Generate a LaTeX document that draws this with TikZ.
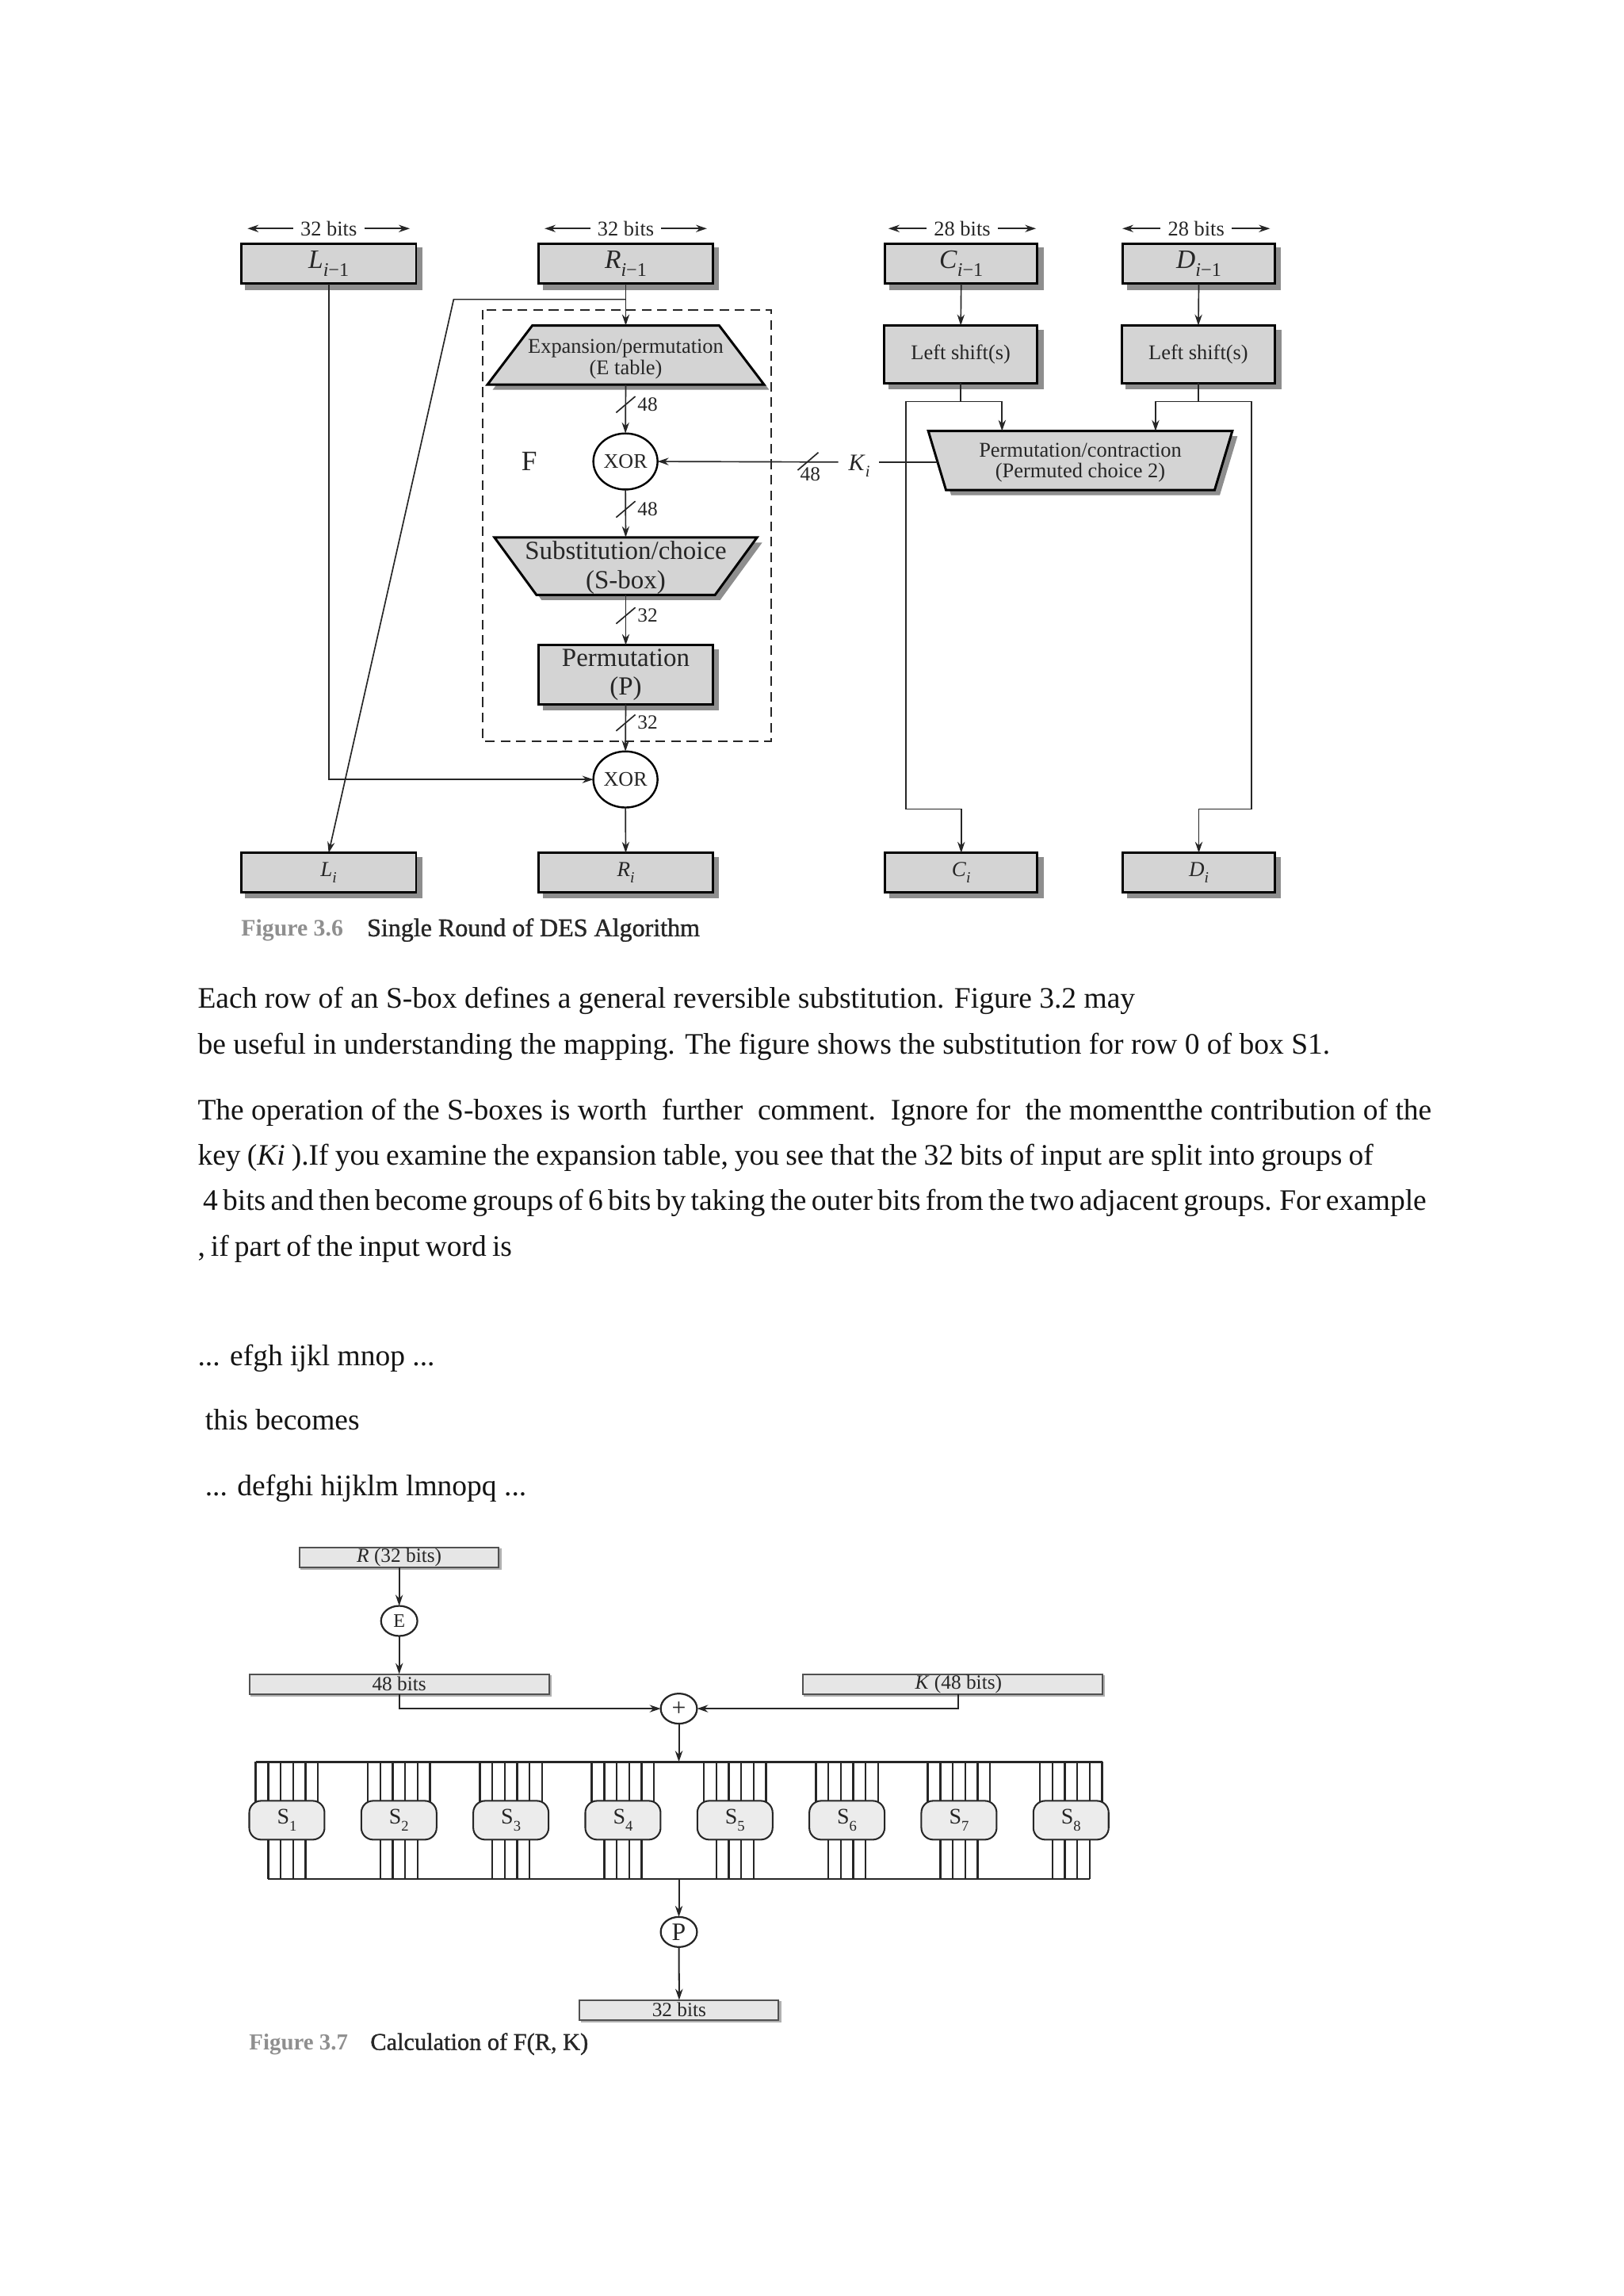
\documentclass[tikz,border=0pt]{standalone}
\usepackage{fontspec}
\setmainfont{Liberation Serif}
\newfontfamily\semib[FakeBold=1.2]{Liberation Serif}
\usetikzlibrary{arrows.meta,shapes.geometric}
\definecolor{boxgray}{HTML}{D4D4D4}
\definecolor{shadowgray}{HTML}{8E8E8E}
\definecolor{lightbox}{HTML}{E6E6E6}
\definecolor{sfill}{HTML}{ECECEC}
\definecolor{ink}{HTML}{262626}
\definecolor{capgray}{HTML}{8F8F8F}
\newcommand\fsz[1]{\fontsize{#1}{#1}\selectfont}
\newcommand\sbs[2]{\raisebox{-0.3em}{\fontsize{#1}{#1}\selectfont #2}}
\newcommand\slashlbl[4]{%
  \draw[conn] ({#1-6.5},{#2+5.5}) -- ({#1+6.5},{#2-5.5});
  \node[anchor=west,font=\fsz{13.6}] (#4) at ({#1+8},{#2}) {#3};}
\begin{document}
\begin{tikzpicture}[x=1pt,y=-1pt,
  >={Stealth[length=7.5pt,width=5pt]},
  every node/.style={inner sep=0pt,outer sep=0pt,text=ink},
  conn/.style={draw=ink,line width=0.9pt},
  conn7/.style={draw=ink,line width=1.1pt},
  wire/.style={draw=ink,line width=1.3pt},
  bigbox/.style={draw=black,line width=1.6pt,fill=boxgray,minimum height=27pt,
    preaction={draw=shadowgray,fill=shadowgray,line width=1.6pt,transform canvas={xshift=3.5pt,yshift=-3.5pt}}},
  xorc/.style={draw=black,line width=1.3pt,ellipse,fill=white,minimum width=43.5pt,minimum height=38pt,font=\fsz{14}},
  smallbox/.style={draw=ink!80,line width=1pt,fill=lightbox,minimum height=13.4pt,font=\fsz{13.6},
    preaction={draw=shadowgray!70,fill=shadowgray!70,transform canvas={xshift=1.2pt,yshift=-1.2pt}}},
  circ7/.style={draw=ink,line width=1.2pt,ellipse,fill=white,minimum width=24.6pt,minimum height=20.4pt},
  sbox/.style={draw=ink,line width=1.1pt,fill=sfill,rounded corners=8pt,minimum width=51pt,minimum height=26.3pt},
  body/.style={anchor=base west,font=\fsz{20.15},text=black!92},
  trap/.style={fill=boxgray,draw=black,line width=1.6pt,line join=miter},
  trapsh/.style={fill=shadowgray,shift={(3.5,3.5)}},
]
\fill[white] (0,0) rectangle (1100,1555.3);
\useasboundingbox (0,0) rectangle (1100,1555.3);

% ================= Figure 3.6 =================
% bit-width labels
\node[font=\fsz{14.2}] (b1) at (222.7,154.8) {32 bits};
\node[font=\fsz{14.2}] (b2) at (424,154.8) {32 bits};
\node[font=\fsz{14.2}] (b3) at (652,154.8) {28 bits};
\node[font=\fsz{14.2}] (b4) at (810.5,154.8) {28 bits};
\foreach \b/\d in {b1/55,b2/55,b3/50,b4/50}{
  \draw[conn,->] ([xshift=-5pt]\b.west) -- ([xshift=-\d pt]\b.center);
  \draw[conn,->] ([xshift=5pt]\b.east) -- ([xshift=\d pt]\b.center);
}

% top boxes
\node[bigbox,minimum width=118.5pt,font=\fsz{18}] (Lp) at (222.7,178.5) {\textit{L}\sbs{13}{\textit{i}−1}};
\node[bigbox,minimum width=118pt,font=\fsz{18}] (Rp) at (424,178.5) {\textit{R}\sbs{13}{\textit{i}−1}};
\node[bigbox,minimum width=103pt,font=\fsz{18}] (Cp) at (651.3,178.5) {\textit{C}\sbs{13}{\textit{i}−1}};
\node[bigbox,minimum width=103pt,font=\fsz{18}] (Dp) at (812.3,178.5) {\textit{D}\sbs{13}{\textit{i}−1}};

% left shift boxes
\node[bigbox,minimum width=103.5pt,minimum height=39pt,font=\fsz{14.2}] (LS1) at (651,240) {Left shift(s)};
\node[bigbox,minimum width=104pt,minimum height=39pt,font=\fsz{14.2}] (LS2) at (812,240) {Left shift(s)};

% dashed F box
\draw[draw=ink,line width=1.1pt,dash pattern=on 6.5pt off 4pt] (327,209.8) rectangle (522.5,502);
\node[font=\fsz{19}] (F) at (358.6,312.6) {F};

% E trapezoid
\fill[trapsh] (360.7,220.5) -- (487.3,220.5) -- (517.7,260.5) -- (330.3,260.5) -- cycle;
\filldraw[trap] (360.7,220.5) -- (487.3,220.5) -- (517.7,260.5) -- (330.3,260.5) -- cycle;
\node[align=center,font={\fontsize{14.2}{14.5}\selectfont}] (Etxt) at (424,243.5) {Expansion/permutation\\(E table)};
\coordinate (Etop) at (424,220.5);
\coordinate (Ebot) at (424,260.5);

% XOR 1
\node[xorc] (X1) at (423.8,312.6) {XOR};

% S trapezoid
\fill[trapsh] (335,364) -- (513,364) -- (484.5,403) -- (363.5,403) -- cycle;
\filldraw[trap] (335,364) -- (513,364) -- (484.5,403) -- (363.5,403) -- cycle;
\node[align=center,font={\fontsize{17.7}{20}\selectfont}] (Stxt) at (424,384.5) {Substitution/choice\\(S-box)};
\coordinate (Stop) at (424,364);
\coordinate (Sbot) at (424,403);

% Permutation box
\node[bigbox,minimum width=118pt,minimum height=40pt,align=center,font={\fontsize{17.7}{19.5}\selectfont}] (P) at (424,457) {Permutation\\(P)};

% XOR 2
\node[xorc] (X2) at (423.8,528) {XOR};

% PC2 trapezoid
\fill[trapsh] (629,292) -- (835,292) -- (823,332) -- (641,332) -- cycle;
\filldraw[trap] (629,292) -- (835,292) -- (823,332) -- (641,332) -- cycle;
\node[align=center,font={\fontsize{14.2}{14}\selectfont}] (PCtxt) at (732,313.5) {Permutation/contraction\\(Permuted choice 2)};
\coordinate (PCl) at (635.3,313);
\coordinate (PCt1) at (679,292);
\coordinate (PCt2) at (783,292);

% bottom boxes
\node[bigbox,minimum width=118.5pt,minimum height=26.5pt,font=\fsz{14.5}] (Li) at (222.7,591) {\textit{L}\sbs{10.5}{\textit{i}}};
\node[bigbox,minimum width=118pt,minimum height=26.5pt,font=\fsz{14.5}] (Ri) at (424,591) {\textit{R}\sbs{10.5}{\textit{i}}};
\node[bigbox,minimum width=103pt,minimum height=26.5pt,font=\fsz{14.5}] (Ci) at (651.3,591) {\textit{C}\sbs{10.5}{\textit{i}}};
\node[bigbox,minimum width=103pt,minimum height=26.5pt,font=\fsz{14.5}] (Di) at (812.3,591) {\textit{D}\sbs{10.5}{\textit{i}}};

% connectors of the data path
\coordinate (br) at (424,202.8);
\coordinate (brL) at (307.4,202.8);
\draw[conn,->] (Rp.south) -- (Etop);
\draw[conn,->] (br) -- (brL) -- (Li.north);
\draw[conn,->] (Lp.south) |- (X2.west);
\draw[conn,->] (Ebot) -- (X1.north);
\slashlbl{424}{274}{48}{n1}
\draw[conn,->] (X1.south) -- (Stop);
\slashlbl{424}{345}{48}{n2}
\draw[conn,->] (Sbot) -- (P.north);
\slashlbl{424}{417}{32}{n3}
\draw[conn,->] (P.south) -- (X2.north);
\slashlbl{424}{489.6}{32}{n4}
\draw[conn,->] (X2.south) -- (Ri.north);

% key path
\node[anchor=base west,font=\fsz{16}] (Ki) at (575,318.5) {\textit{K}\sbs{11}{\textit{i}}};
\draw[conn] (PCl) -- ([xshift=6pt]Ki.east |- PCl);
\draw[conn,->] ([xshift=-7pt]Ki.west |- PCl) -- (X1.east);
\draw[conn] (540.5,318.5) -- (554.5,306.5);
\node[anchor=north,font=\fsz{13.6}] (n5) at (549,316.5) {48};

\coordinate (jL) at (614,272);
\coordinate (jLa) at (679,272);
\coordinate (jR) at (848,272);
\coordinate (jRa) at (783,272);
\coordinate (bendL) at (614,548);
\coordinate (bendR) at (848,548);
\draw[conn,->] (Cp.south) -- (LS1.north);
\draw[conn,->] (Dp.south) -- (LS2.north);
\draw[conn] (LS1.south) -- (LS1.south |- jL);
\draw[conn] (LS2.south) -- (LS2.south |- jR);
\draw[conn,->] (jL) -- (jLa) -- (PCt1);
\draw[conn,->] (jR) -- (jRa) -- (PCt2);
\draw[conn,->] (jL) -- (bendL) -| (Ci.north);
\draw[conn,->] (jR) -- (bendR) -| (Di.north);

% caption 3.6
\node[anchor=west,font=\fsz{16},text=capgray] (cap1a) at (163.5,630) {\bfseries Figure 3.6};
\node[anchor=west,font=\fsz{17.2}] (cap1b) at (248.7,630) {\semib Single Round of DES Algorithm};

% ================= Body text =================
\node[body] (t1) at (134,683) {Each row of an S-box defines a general reversible substitution. Figure 3.2 may};
\node[body] (t2) at (134,713.8) {be useful in understanding the mapping. The figure shows the substitution for row 0 of box S1.};
\node[body] (t3) at (134,758.5) {The operation of the S-boxes is worth\ \ further\ \ comment.\ \ Ignore for\ \ the momentthe contribution of the};
\node[body] (t4) at (134,789.2) {\spaceskip=4.35pt key (\textit{Ki} ).If you examine the expansion table, you see that the 32 bits of input are split into groups of};
\node[body] (t5) at (137.5,820) {\spaceskip=3.4pt 4 bits and then become groups of 6 bits by taking the outer bits from the two adjacent groups. For example};
\node[body] (t6) at (134,850.7) {\spaceskip=3.8pt , if part of the input word is};
\node[body] (t7) at (134,925) {... efgh ijkl mnop ...};
\node[body] (t8) at (139,968.7) {this becomes};
\node[body] (t9) at (139,1013.4) {... defghi hijklm lmnopq ...};

% ================= Figure 3.7 =================
\node[smallbox,minimum width=135pt] (R7) at (270.5,1055) {\textit{R} (32 bits)};
\node[circ7,font=\fsz{13}] (E7) at (270.5,1098) {E};
\node[smallbox,minimum width=203pt] (B48) at (270.5,1140.75) {48 bits};
\node[smallbox,minimum width=203pt] (K48) at (645.5,1140.75) {\hspace{8pt}\textit{K} (48 bits)};
\node[circ7,font=\fsz{17}] (X7) at (460,1157.4) {+};
\draw[conn7,->] (R7.south) -- (E7.north);
\draw[conn7,->] (E7.south) -- (B48.north);
\draw[conn7,->] (B48.south) |- (X7.west);
\draw[conn7,->] ([xshift=4pt]K48.south) |- (X7.east);

% S-box row
\coordinate (busT) at (460,1193.5);
\coordinate (busB) at (460,1272.8);
\draw[wire] (173.3,1193.5) -- (746.9,1193.5);
\draw[wire] (181.75,1272.8) -- (738.25,1272.8);
\foreach \k in {1,...,8}{
  \pgfmathsetmacro\cx{194.4+75.9*(\k-1)}
  \foreach \o in {-21.1,-12.65,-4.2,4.2,12.65,21.1}
    \draw[wire] ({\cx+\o},1193.5) -- ({\cx+\o},1233);
  \foreach \o in {-12.65,-4.2,4.2,12.65}
    \draw[wire] ({\cx+\o},1233) -- ({\cx+\o},1272.8);
  \node[sbox,font=\fsz{15}] (S\k) at (\cx,1233) {S\sbs{10}{\k}};
}
\draw[conn7,->] (X7.south) -- (busT);
\node[circ7,font=\fsz{17}] (P7) at (460,1308.7) {P};
\node[smallbox,minimum width=134.8pt] (B32) at (460.2,1361.5) {32 bits};
\draw[conn7,->] (busB) -- (P7.north);
\draw[conn7,->] (P7.south) -- (B32.north);

% caption 3.7
\node[anchor=west,font=\fsz{15.5},text=capgray] (cap2a) at (168.9,1384.6) {\bfseries Figure 3.7};
\node[anchor=west,font=\fsz{16.3}] (cap2b) at (251,1384.6) {\semib Calculation of F(R, K)};
\end{tikzpicture}
\end{document}
